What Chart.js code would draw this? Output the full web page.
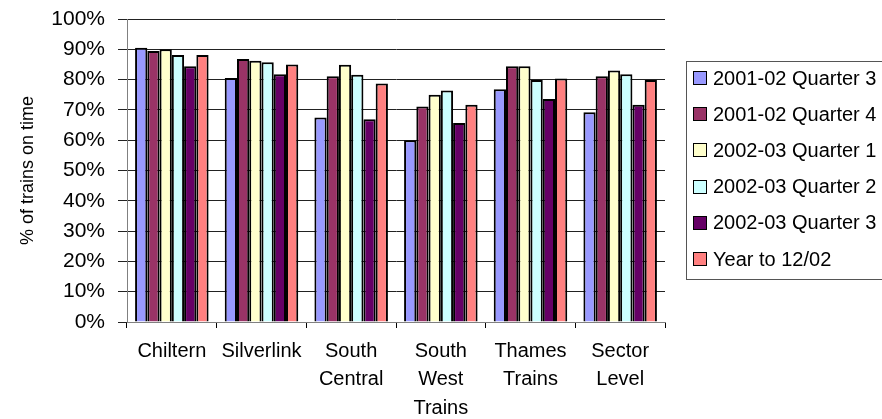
<!DOCTYPE html>
<html>
<head>
<meta charset="utf-8">
<script src="https://cdn.jsdelivr.net/npm/chart.js@4/dist/chart.umd.min.js"></script>
<style>
  html, body { margin: 0; padding: 0; background: #fff; }
  #wrap { width: 882px; height: 419px; position: relative; }
</style>
</head>
<body>
<div id="wrap"><canvas id="chart" width="882" height="419"></canvas></div>
<script>
// --- data ---
const operators = [["Chiltern"], ["Silverlink"], ["South", "Central"], ["South", "West", "Trains"], ["Thames", "Trains"], ["Sector", "Level"]];
const periodLabels = ["2001-02 Quarter 3", "2001-02 Quarter 4", "2002-03 Quarter 1", "2002-03 Quarter 2", "2002-03 Quarter 3", "Year to 12/02"];
const q3_0102 = [90.5, 80.5, 67.5, 60.0, 76.8, 69.2];
const q4_0102 = [89.4, 86.8, 81.1, 71.1, 84.4, 81.1];
const q1_0203 = [90.0, 86.2, 84.9, 75.0, 84.4, 83.0];
const q2_0203 = [88.1, 85.7, 81.6, 76.4, 79.9, 81.8];
const q3_0203 = [84.4, 81.8, 66.9, 65.7, 73.6, 71.7];
const yearTo1202 = [88.1, 85.0, 78.7, 71.7, 80.4, 79.9];
const yTicks = [0, 10, 20, 30, 40, 50, 60, 70, 80, 90, 100];

const seriesValues = [q3_0102, q4_0102, q1_0203, q2_0203, q3_0203, yearTo1202];
const seriesColors = ["#9999FF", "#993366", "#FFFFCC", "#CCFFFF", "#660066", "#FF8080"];
const FONT = '"Liberation Sans", Arial, sans-serif';

// legend drawn as the boxed Excel-style legend on the right
const boxLegend = {
  id: "boxLegend",
  afterDraw(chart) {
    const ctx = chart.ctx;
    ctx.save();
    ctx.strokeStyle = "#555";
    ctx.lineWidth = 1;
    ctx.strokeRect(686.5, 61.5, 220, 218);
    ctx.font = "20px " + FONT;
    ctx.textBaseline = "middle";
    ctx.textAlign = "left";
    chart.data.datasets.forEach((ds, i) => {
      const y = 78 + i * 36.2;
      ctx.fillStyle = ds.backgroundColor;
      ctx.fillRect(693.5, Math.round(y) - 6.5, 13, 13);
      ctx.strokeStyle = "#000";
      ctx.strokeRect(693.5, Math.round(y) - 6.5, 13, 13);
      ctx.fillStyle = "#000";
      ctx.fillText(ds.label, 713, y + 1);
    });
    ctx.restore();
  },
};

new Chart(document.getElementById("chart"), {
  type: "bar",
  data: {
    labels: operators,
    datasets: periodLabels.map((label, i) => ({
      label: label,
      data: seriesValues[i],
      backgroundColor: seriesColors[i],
      borderColor: "#000",
      borderWidth: 2,
      categoryPercentage: 0.82,
      barPercentage: 1.0,
    })),
  },
  options: {
    responsive: false,
    animation: false,
    layout: { padding: { top: 19, right: 217, bottom: 0, left: 0 } },
    plugins: {
      legend: { display: false },
      tooltip: { enabled: false },
    },
    scales: {
      x: {
        afterFit: (scale) => { scale.height = 97; scale.paddingLeft = 0; scale.paddingRight = 0; },
        grid: {
          display: true,
          drawOnChartArea: false,
          offset: true,
          tickLength: 6,
          color: "#000",
        },
        border: { color: "#808080", width: 1 },
        ticks: {
          color: "#000",
          padding: 9,
          maxRotation: 0,
          font: { family: FONT, size: 20, lineHeight: 1.42 },
        },
      },
      y: {
        min: 0,
        max: 100,
        afterFit: (scale) => { scale.width = 127; scale.paddingTop = 0; scale.paddingBottom = 0; },
        afterBuildTicks: (scale) => { scale.ticks = yTicks.map((v) => ({ value: v })); },
        grid: { color: "#222", tickLength: 9, drawTicks: true },
        border: { color: "#808080", width: 1 },
        ticks: {
          color: "#000",
          padding: 13,
          font: { family: FONT, size: 21 },
          callback: (v) => v + "%",
        },
        title: {
          display: true,
          text: "% of trains on time",
          color: "#000",
          padding: { top: 17, bottom: 0 },
          font: { family: FONT, size: 18 },
        },
      },
    },
  },
  plugins: [boxLegend],
});
</script>
</body>
</html>
